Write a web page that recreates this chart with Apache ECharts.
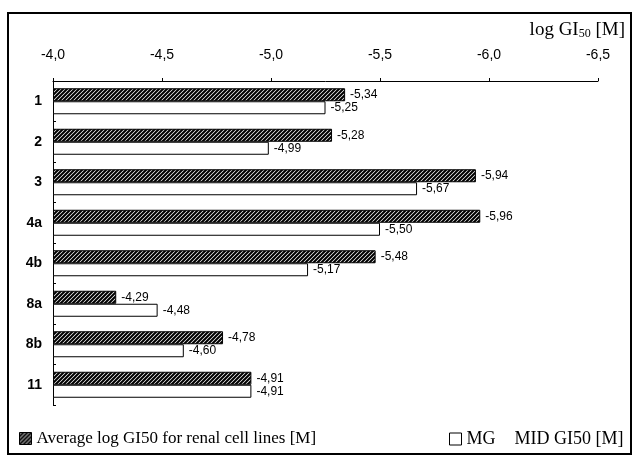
<!DOCTYPE html>
<html>
<head>
<meta charset="utf-8">
<script src="https://cdn.jsdelivr.net/npm/echarts@6/dist/echarts.min.js"></script>
<style>
  html, body { margin: 0; padding: 0; background: #fff; }
  #chart { width: 635px; height: 465px; }
</style>
</head>
<body>
<div id="chart"></div>
<script>
// compounds
const categories = ['1', '2', '3', '4a', '4b', '8a', '8b', '11']
// average log GI50 for renal cell lines
const renalValues = [-5.34, -5.28, -5.94, -5.96, -5.48, -4.29, -4.78, -4.91]
// MG MID GI50
const mgMidValues = [-5.25, -4.99, -5.67, -5.50, -5.17, -4.48, -4.60, -4.91]
const xTicks = [-6.5, -6.0, -5.5, -5.0, -4.5, -4.0]

const renalName = 'Average log GI50 for renal cell lines [M]'
const mgName = 'MG  MID GI50 [M]'

const serif = 'Liberation Serif, Times New Roman'
const sans = 'Liberation Sans, Arial'

// hatched fill "////"
function makeHatch () {
  const c = document.createElement('canvas')
  c.width = 4
  c.height = 4
  const ctx = c.getContext('2d')
  ctx.fillStyle = '#ffffff'
  ctx.fillRect(0, 0, 4, 4)
  ctx.strokeStyle = '#000'
  ctx.lineWidth = 2.1
  ctx.beginPath()
  ctx.moveTo(-1, 5); ctx.lineTo(5, -1)
  ctx.moveTo(-1, 1); ctx.lineTo(1, -1)
  ctx.moveTo(3, 5); ctx.lineTo(5, 3)
  ctx.stroke()
  return c
}
const hatch = { image: makeHatch(), repeat: 'repeat' }

const comma = (v, d) => v.toFixed(d).replace('.', ',')

const chart = echarts.init(document.getElementById('chart'), null, { renderer: 'canvas' })

const labelStyle = {
  show: true,
  position: 'right',
  distance: 5,
  color: '#000',
  fontFamily: sans,
  fontSize: 12,
  formatter: p => comma(p.value, 2)
}

const option = {
  animation: false,
  backgroundColor: '#fff',
  title: {
    right: 10,
    top: 20,
    padding: 0,
    text: '{a|log GI}{s|50}{a| [M]}',
    textStyle: {
      fontWeight: 'normal',
      rich: {
        a: { fontFamily: serif, fontSize: 19, fontWeight: 'normal', color: '#000' },
        s: { fontFamily: serif, fontSize: 12, fontWeight: 'normal', color: '#000', padding: [8, 0, 0, 0] }
      }
    }
  },
  graphic: [
    {
      type: 'rect',
      shape: { x: 8, y: 13, width: 623, height: 441 },
      style: { fill: 'none', stroke: '#000', lineWidth: 2 },
      silent: true
    }
  ],
  legend: [
    {
      left: 19,
      top: 430,
      padding: 0,
      itemWidth: 12,
      itemHeight: 12,
      icon: 'rect',
      textStyle: { fontFamily: serif, fontSize: 17, color: '#000' },
      data: [{ name: renalName, itemStyle: { color: hatch, borderColor: '#000', borderWidth: 1 } }]
    },
    {
      left: 449,
      top: 430,
      padding: 0,
      itemWidth: 12,
      itemHeight: 12,
      icon: 'rect',
      formatter: () => '{g|MG}{h|MID GI50 [M]}',
      textStyle: {
        fontFamily: serif,
        fontSize: 18,
        color: '#000',
        rich: {
          g: { fontFamily: serif, fontSize: 18, color: '#000', padding: [0, 19, 0, 0] },
          h: { fontFamily: serif, fontSize: 18, color: '#000' }
        }
      },
      data: [{ name: mgName, itemStyle: { color: '#fff', borderColor: '#000', borderWidth: 1 } }]
    }
  ],
  grid: {
    left: 53,
    right: 37,
    top: 81,
    height: 324
  },
  xAxis: {
    type: 'value',
    position: 'top',
    inverse: true,
    min: xTicks[0],
    max: xTicks[xTicks.length - 1],
    interval: 0.5,
    startValue: -4,
    splitLine: { show: false },
    axisLine: { show: true, lineStyle: { color: '#000', width: 1 } },
    axisTick: { show: true, length: 3, lineStyle: { color: '#000' } },
    axisLabel: {
      margin: 19,
      color: '#000',
      fontFamily: sans,
      fontSize: 14,
      formatter: v => comma(v, 1)
    }
  },
  yAxis: {
    type: 'category',
    inverse: true,
    data: categories,
    axisLine: { show: true, lineStyle: { color: '#000', width: 1 } },
    axisTick: { show: true, inside: true, length: 3, lineStyle: { color: '#000' } },
    axisLabel: {
      margin: 11,
      color: '#000',
      fontFamily: sans,
      fontWeight: 'bold',
      fontSize: 14
    }
  },
  series: [
    {
      name: renalName,
      type: 'bar',
      barWidth: 13,
      barGap: '0%',
      data: renalValues,
      itemStyle: { color: hatch, borderColor: '#000', borderWidth: 1 },
      label: labelStyle
    },
    {
      name: mgName,
      type: 'bar',
      barWidth: 13,
      barGap: '0%',
      data: mgMidValues,
      itemStyle: { color: '#fff', borderColor: '#000', borderWidth: 1 },
      label: labelStyle
    }
  ]
}

chart.setOption(option)
</script>
</body>
</html>
